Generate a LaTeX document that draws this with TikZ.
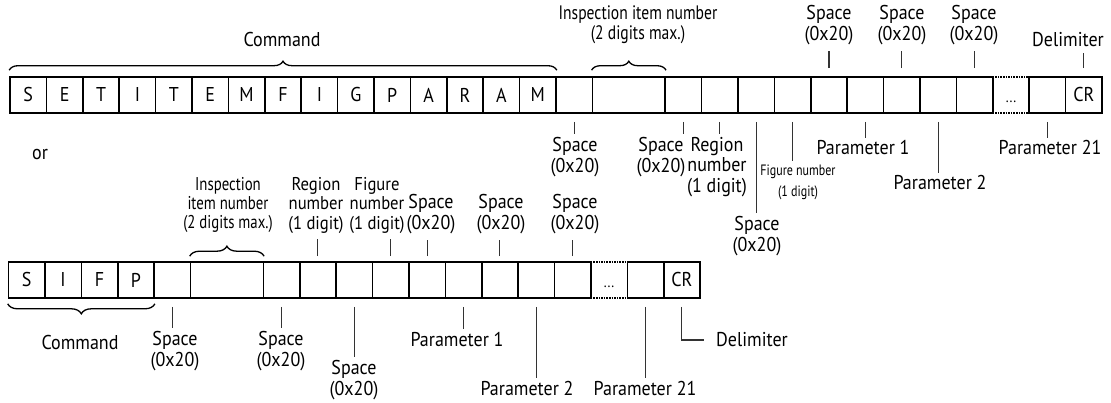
\documentclass[tikz,border=0pt]{standalone}
\usepackage{fontspec}
\setmainfont[FakeStretch=0.9]{PT Sans}
\newfontfamily\narrowfont[FakeStretch=0.8]{PT Sans}
\usetikzlibrary{decorations.pathreplacing, calc}
\def\cw{36.4}
\tikzset{
    cell/.style={rectangle, draw, line width=1.6pt, minimum width=\cw pt,
        minimum height=36pt, inner sep=0pt, font=\fontsize{20}{22}\selectfont},
    gapcell/.style={rectangle, minimum width=\cw pt, minimum height=36pt, inner sep=0pt,
        text height=15pt, text depth=0pt, font=\fontsize{15}{16}\selectfont},
    lbl/.style={align=center, inner sep=0pt, font=\fontsize{20}{20.5}\selectfont},
    narrowlbl/.style={align=center, inner sep=0pt, font=\narrowfont\fontsize{19.5}{20}\selectfont},
    smalllbl/.style={align=center, inner sep=0pt, font=\narrowfont\fontsize{15}{21}\selectfont},
    tick/.style={line width=1.1pt, draw=black!80},
    tickup/.style={tick, shorten <=8pt, shorten >=6pt},
    tickdown/.style={tick, shorten <=8pt, shorten >=3pt},
    dotline/.style={line width=1.6pt, densely dotted},
    brace/.style={decorate, line width=1.3pt, decoration={brace, amplitude=9pt, raise=6pt}}
}
\begin{document}
\begin{tikzpicture}[x=1pt, y=-1pt]
    \useasboundingbox (0,0) rectangle (1111,403);

    % first form: SETITEMFIGPARAM
    \foreach \l [count=\i from 0] in {S,E,T,I,T,E,M,F,I,G,P,A,R,A,M}
        \node[cell] (t\i) at ({10+(\i+0.5)*\cw},95) {\l};
    \node[cell] (t15) at ({10+15.5*\cw},95) {};
    \node[cell, minimum width=2*\cw pt] (t16) at ({10+17*\cw},95) {};
    \foreach \i in {18,...,26}
        \node[cell] (t\i) at ({10+(\i+0.5)*\cw},95) {};
    \node[gapcell] (tdots) at ({10+27.5*\cw},95) {...};
    \node[cell] (t28) at ({10+28.5*\cw},95) {};
    \node[cell] (t29) at ({10+29.5*\cw},95) {CR};
    \draw[dotline] (tdots.north west) -- (tdots.north east);
    \draw[dotline] (tdots.south west) -- (tdots.south east);

    \node[lbl] (cmdT) at (282,40) {Command};
    \node[narrowlbl] (inspT) at (638,25) {Inspection item number\\(2 digits max.)};
    \node[lbl] (spT22) at (829,25) {Space\\(0x20)};
    \node[lbl] (spT24) at (902,25) {Space\\(0x20)};
    \node[lbl] (spT26) at (974,25) {Space\\(0x20)};
    \node[lbl] (delimT) at (1068,40) {Delimiter};

    \node[lbl] (spT15) at (575,157) {Space\\(0x20)};
    \node[lbl] (spT18) at (661,157) {Space\\(0x20)};
    \node[lbl] (regT) at (717,167) {Region\\number\\(1 digit)};
    \node[lbl] (spT20) at (757,236) {Space\\(0x20)};
    \node[smalllbl] (figT) at (798,182) {Figure number\\(1 digit)};
    \node[lbl] (par1T) at (863,148) {Parameter 1};
    \node[lbl] (par2T) at (940,183) {Parameter 2};
    \node[lbl] (par21T) at (1050,148) {Parameter 21};

    \draw[brace] (t0.north west) -- (t14.north east);
    \draw[brace] (t16.north west) -- (t16.north east);
    \foreach \c/\n in {22/spT22, 24/spT24, 26/spT26, 29/delimT}
        \draw[tickup] (t\c.north) -- (t\c.north |- \n.south);
    \foreach \c/\n in {15/spT15, 18/spT18, 19/regT, 20/spT20, 21/figT, 23/par1T, 25/par2T, 28/par21T}
        \draw[tickdown] (t\c.south) -- (t\c.south |- \n.north);

    \node[lbl] (or) at (40,155) {or};

    % second form: SIFP
    \foreach \l [count=\i from 0] in {S,I,F,P}
        \node[cell] (b\i) at ({8.5+(\i+0.5)*\cw},280) {\l};
    \node[cell] (b4) at ({8.5+4.5*\cw},280) {};
    \node[cell, minimum width=2*\cw pt] (b5) at ({8.5+6*\cw},280) {};
    \foreach \i in {7,...,15}
        \node[cell] (b\i) at ({8.5+(\i+0.5)*\cw},280) {};
    \node[gapcell] (bdots) at ({8.5+16.5*\cw},280) {...};
    \node[cell] (b17) at ({8.5+17.5*\cw},280) {};
    \node[cell] (b18) at ({8.5+18.5*\cw},280) {CR};
    \draw[dotline] (bdots.north west) -- (bdots.north east);
    \draw[dotline] (bdots.south west) -- (bdots.south east);

    \node[narrowlbl, font=\narrowfont\fontsize{18.5}{19}\selectfont] (inspB) at (228,205) {Inspection\\item number\\(2 digits max.)};
    \node[lbl, font=\fontsize{18.5}{19.5}\selectfont] (regB) at (316,205) {Region\\number\\(1 digit)};
    \node[lbl, font=\fontsize{18.5}{19.5}\selectfont] (figB) at (377,205) {Figure\\number\\(1 digit)};
    \node[lbl] (spB11) at (431,214) {Space\\(0x20)};
    \node[lbl] (spB13) at (501,214) {Space\\(0x20)};
    \node[lbl] (spB15) at (575,214) {Space\\(0x20)};

    \node[lbl] (cmdB) at (80,342) {Command};
    \node[lbl] (spB4) at (175,351) {Space\\(0x20)};
    \node[lbl] (spB7) at (281,351) {Space\\(0x20)};
    \node[lbl] (spB9) at (354,380) {Space\\(0x20)};
    \node[lbl] (par1B) at (457,339) {Parameter 1};
    \node[lbl] (par2B) at (527,388) {Parameter 2};
    \node[lbl] (par21B) at (645,388) {Parameter 21};
    \node[lbl] (delimB) at (752,340) {Delimiter};

    \draw[brace, decoration={amplitude=10pt, raise=5pt}] (b5.north west) -- (b5.north east);
    \draw[brace, decoration={amplitude=10pt, raise=5pt}] (b3.south east) -- (b0.south west);
    \foreach \c/\n in {8/regB, 10/figB, 11/spB11, 13/spB13, 15/spB15}
        \draw[tick, shorten <=5pt, shorten >=6pt] (b\c.north) -- (b\c.north |- \n.south);
    \foreach \c/\n in {4/spB4, 7/spB7, 9/spB9, 12/par1B, 14/par2B, 17/par21B}
        \draw[tickdown] (b\c.south) -- (b\c.south |- \n.north);
    \draw[tick, shorten <=8pt, shorten >=12pt] (b18.south) |- (delimB.west);
\end{tikzpicture}
\end{document}
